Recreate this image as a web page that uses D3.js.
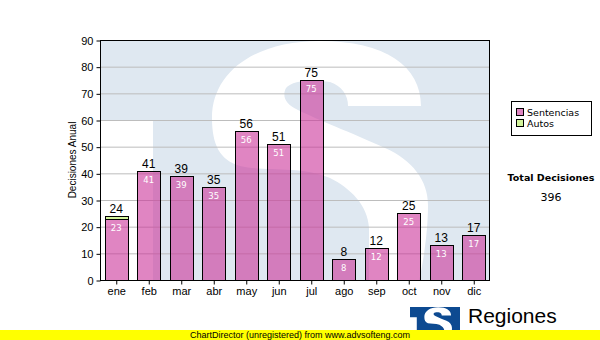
<!DOCTYPE html>
<html>
<head>
<meta charset="utf-8">
<script src="https://cdn.jsdelivr.net/npm/d3@7"></script>
<style>
  html, body { margin: 0; padding: 0; background: #fff; }
  svg { display: block; }
</style>
</head>
<body>
<svg id="chart" width="600" height="340"></svg>
<script>
// Monthly decisions
const months = ["ene", "feb", "mar", "abr", "may", "jun", "jul", "ago", "sep", "oct", "nov", "dic"];
const sentencias = [23, 41, 39, 35, 56, 51, 75, 8, 12, 25, 13, 17];
const autos = [1, 0, 0, 0, 0, 0, 0, 0, 0, 0, 0, 0];
const yTicks = [0, 10, 20, 30, 40, 50, 60, 70, 80, 90];
const seriesNames = ["Sentencias", "Autos"];
const seriesColors = ["#cc3399", "#c4f07a"];

const svg = d3.select("#chart");
const W = 600, H = 340;
const plot = { left: 100, top: 40, right: 490, bottom: 280 };

const x = d3.scaleBand().domain(months).range([plot.left, plot.right]).padding(0);
const y = d3.scaleLinear().domain([0, 90]).range([plot.bottom, plot.top]);

// "TS" emblem outline, drawn in plot-area units (100..490 x 40..)
const emblemS = "M421,106 C421,66 385,41 320,41 C255,41 212,72 212,118 " +
  "C212,145 220,160 240,166 C265,172 300,165 330,178 C350,188 368,205 369,228 " +
  "L369,330 L405,330 C420,290 428,240 428,205 C428,180 412,160 385,148 " +
  "C350,132 318,120 298,110 C285,104 282,96 286,88 C292,80 315,79 330,82 " +
  "C342,86 348,95 348,106 Z";

const defs = svg.append("defs");
defs.append("clipPath").attr("id", "plotClip")
  .append("rect")
  .attr("x", plot.left).attr("y", plot.top)
  .attr("width", plot.right - plot.left).attr("height", plot.bottom - plot.top);

// Plot background with the watermark emblem
const bg = svg.append("g").attr("clip-path", "url(#plotClip)");
bg.append("rect")
  .attr("x", plot.left).attr("y", plot.top)
  .attr("width", plot.right - plot.left).attr("height", plot.bottom - plot.top)
  .attr("fill", "#dfe8f1");
bg.append("rect")
  .attr("x", plot.left).attr("y", 120)
  .attr("width", 53).attr("height", 300)
  .attr("fill", "#ffffff");
bg.append("path").attr("d", emblemS).attr("fill", "#ffffff");

// Horizontal grid lines
svg.append("g")
  .selectAll("line")
  .data(yTicks.filter(d => d > 0 && d < 90))
  .join("line")
  .attr("x1", plot.left).attr("x2", plot.right)
  .attr("y1", d => y(d) + 0.5).attr("y2", d => y(d) + 0.5)
  .attr("stroke", "#bdbdbd").attr("stroke-width", 1);

// Stacked bars
const barW = x.bandwidth() * 0.72;
const bars = svg.append("g");
months.forEach((m, i) => {
  const cx = x(m) + x.bandwidth() / 2;
  const s = sentencias[i], a = autos[i];
  const x0 = Math.round(cx - barW / 2) + 0.5;
  const w = Math.round(barW);
  bars.append("rect")
    .attr("x", x0).attr("y", Math.round(y(s)) + 0.5)
    .attr("width", w).attr("height", Math.round(y(0)) - Math.round(y(s)))
    .attr("fill", seriesColors[0]).attr("fill-opacity", 0.6)
    .attr("stroke", "#000").attr("stroke-width", 1);
  if (a > 0) {
    bars.append("rect")
      .attr("x", x0).attr("y", Math.round(y(s + a)) + 0.5)
      .attr("width", w).attr("height", Math.round(y(s)) - Math.round(y(s + a)))
      .attr("fill", seriesColors[1]).attr("fill-opacity", 0.75)
      .attr("stroke", "#000").attr("stroke-width", 1);
  }
  // value inside the Sentencias segment
  bars.append("text")
    .attr("x", cx).attr("y", y(s) + 12)
    .attr("text-anchor", "middle")
    .attr("font-family", "DejaVu Sans")
    .attr("font-size", 8.5)
    .attr("fill", "#ffffff")
    .text(s);
  // total on top of the stack
  bars.append("text")
    .attr("x", cx).attr("y", y(s + a) - 3)
    .attr("text-anchor", "middle")
    .attr("font-family", "Liberation Sans, Arial, sans-serif")
    .attr("font-size", 12)
    .attr("fill", "#000")
    .text(s + a);
});

// Plot frame
svg.append("rect")
  .attr("x", plot.left + 0.5).attr("y", plot.top + 0.5)
  .attr("width", plot.right - plot.left - 1).attr("height", plot.bottom - plot.top)
  .attr("fill", "none").attr("stroke", "#000").attr("stroke-width", 1);

// Axes
const yAxis = d3.axisLeft(y).tickValues(yTicks).tickSize(4).tickPadding(3).tickFormat(d3.format("d"));
const gy = svg.append("g").attr("transform", `translate(${plot.left + 0.5},0.5)`).call(yAxis);
gy.select(".domain").remove();
gy.selectAll("text").attr("font-family", "Liberation Sans, Arial, sans-serif").attr("font-size", 11).attr("fill", "#000");

const xAxis = d3.axisBottom(x).tickSize(4).tickPadding(3);
const gx = svg.append("g").attr("transform", `translate(0.5,${plot.bottom + 0.5})`).call(xAxis);
gx.select(".domain").remove();
gx.selectAll("text").attr("font-family", "Liberation Sans, Arial, sans-serif").attr("font-size", 11).attr("fill", "#000");

// Y axis title
svg.append("text")
  .attr("transform", `translate(76,${(plot.top + plot.bottom) / 2}) rotate(-90)`)
  .attr("text-anchor", "middle")
  .attr("font-family", "Liberation Sans, Arial, sans-serif")
  .attr("font-size", 10)
  .attr("fill", "#000")
  .text("Decisiones Anual");

// Legend
const lg = svg.append("g");
lg.append("rect")
  .attr("x", 511.5).attr("y", 101.5).attr("width", 80).attr("height", 34)
  .attr("fill", "#fff").attr("stroke", "#000");
seriesNames.forEach((n, i) => {
  lg.append("rect")
    .attr("x", 516.5).attr("y", 108.5 + i * 11).attr("width", 7).attr("height", 7)
    .attr("fill", seriesColors[i]).attr("fill-opacity", i === 0 ? 0.6 : 0.75)
    .attr("stroke", "#000");
  lg.append("text")
    .attr("x", 527).attr("y", 116 + i * 11)
    .attr("font-family", "DejaVu Sans")
    .attr("font-size", 9.5)
    .attr("fill", "#000")
    .text(n);
});

// Annual total
const total = d3.sum(sentencias) + d3.sum(autos);
svg.append("text")
  .attr("x", 551).attr("y", 181)
  .attr("text-anchor", "middle")
  .attr("font-family", "DejaVu Sans")
  .attr("font-weight", "bold")
  .attr("font-size", 9.5)
  .attr("fill", "#000")
  .text("Total Decisiones");
svg.append("text")
  .attr("x", 551).attr("y", 201)
  .attr("text-anchor", "middle")
  .attr("font-family", "DejaVu Sans")
  .attr("font-size", 11)
  .attr("fill", "#000")
  .text(total);

// Footer logo: the same emblem at small scale
const logo = svg.append("g");
defs.append("clipPath").attr("id", "logoClip")
  .append("rect").attr("x", 410).attr("y", 307).attr("width", 50).attr("height", 33);
const lc = logo.append("g").attr("clip-path", "url(#logoClip)");
lc.append("rect").attr("x", 410).attr("y", 307).attr("width", 50).attr("height", 33).attr("fill", "#0d4a91");
const emb = lc.append("g").attr("transform", "translate(410,307) scale(0.128) translate(-100,-40)");
emb.append("rect").attr("x", 100).attr("y", 120).attr("width", 53).attr("height", 300).attr("fill", "#fff");
emb.append("path").attr("d", emblemS).attr("fill", "#fff");
logo.append("text")
  .attr("x", 468).attr("y", 323)
  .attr("font-family", "Liberation Sans, Arial, sans-serif")
  .attr("font-size", 21)
  .attr("fill", "#000")
  .text("Regiones");
logo.append("text")
  .attr("x", 468).attr("y", 338)
  .attr("font-family", "Liberation Sans, Arial, sans-serif")
  .attr("font-size", 9)
  .attr("fill", "#000")
  .text("Tribunal Supremo de Justicia");

// Unregistered banner
svg.append("rect").attr("x", 0).attr("y", 330).attr("width", W).attr("height", 10).attr("fill", "#ffff00");
svg.append("text")
  .attr("x", 300).attr("y", 338)
  .attr("text-anchor", "middle")
  .attr("font-family", "Liberation Sans, Arial, sans-serif")
  .attr("font-size", 9)
  .attr("fill", "#000")
  .text("ChartDirector (unregistered) from www.advsofteng.com");
</script>
</body>
</html>
